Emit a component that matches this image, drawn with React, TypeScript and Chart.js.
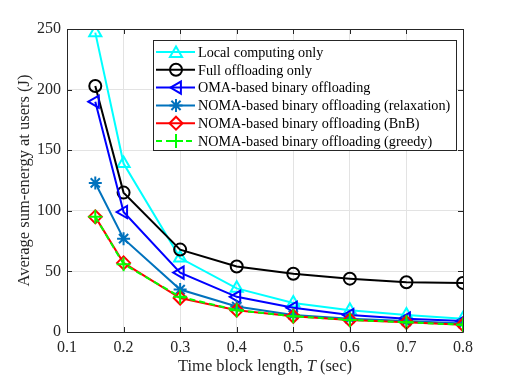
import React, { useEffect, useRef } from "react";
import { Chart, registerables } from "chart.js";

Chart.register(...registerables);

const xValues = [0.15, 0.2, 0.3, 0.4, 0.5, 0.6, 0.7, 0.8];
const localComputing = [247, 139, 61, 36, 24, 18, 14, 11];
const fullOffloading = [203, 115, 68, 54, 48, 44, 41, 40.5];
const omaBinary = [190, 99, 49, 29, 20, 14, 11, 9];
const nomaRelaxation = [123, 77, 35, 21, 14, 11, 9, 7];
const nomaBnB = [95, 57, 28, 18, 13, 10, 8, 6];
const nomaGreedy = [95, 56, 29, 18, 13, 10, 8, 6];

const seriesNames = [
  "Local computing only",
  "Full offloading only",
  "OMA-based binary offloading",
  "NOMA-based binary offloading (relaxation)",
  "NOMA-based binary offloading (BnB)",
  "NOMA-based binary offloading (greedy)",
];

const FONT = "'Liberation Serif', 'Times New Roman', serif";

type Spec = {
  color: string;
  style: string;
  rotation: number;
  radius: number;
  dash: number[];
};

const specs: Spec[] = [
  { color: "#00ffff", style: "triangle", rotation: 0, radius: 7, dash: [] },
  { color: "#000000", style: "circle", rotation: 0, radius: 6, dash: [] },
  { color: "#0000ff", style: "triangle", rotation: -90, radius: 7, dash: [] },
  { color: "#0072bd", style: "star", rotation: 0, radius: 6.5, dash: [] },
  { color: "#ff0000", style: "rectRot", rotation: 0, radius: 6.5, dash: [] },
  { color: "#00ff00", style: "cross", rotation: 0, radius: 7, dash: [6, 4] },
];

function drawMarker(ctx: CanvasRenderingContext2D, s: Spec, x: number, y: number) {
  const r = s.radius;
  ctx.save();
  ctx.strokeStyle = s.color;
  ctx.lineWidth = 2;
  ctx.setLineDash([]);
  ctx.translate(x, y);
  ctx.rotate((s.rotation * Math.PI) / 180);
  ctx.beginPath();
  if (s.style === "circle") {
    ctx.arc(0, 0, r, 0, Math.PI * 2);
  } else if (s.style === "triangle") {
    for (let i = 0; i < 3; i++) {
      const a = -Math.PI / 2 + (i * 2 * Math.PI) / 3;
      const px = Math.cos(a) * r;
      const py = Math.sin(a) * r + r * 0.2;
      if (i === 0) ctx.moveTo(px, py);
      else ctx.lineTo(px, py);
    }
    ctx.closePath();
  } else if (s.style === "rectRot") {
    ctx.moveTo(0, -r);
    ctx.lineTo(r, 0);
    ctx.lineTo(0, r);
    ctx.lineTo(-r, 0);
    ctx.closePath();
  } else if (s.style === "cross") {
    ctx.moveTo(-r, 0);
    ctx.lineTo(r, 0);
    ctx.moveTo(0, -r);
    ctx.lineTo(0, r);
  } else if (s.style === "star") {
    for (let i = 0; i < 4; i++) {
      const a = (i * Math.PI) / 4;
      ctx.moveTo(Math.cos(a) * r, Math.sin(a) * r);
      ctx.lineTo(-Math.cos(a) * r, -Math.sin(a) * r);
    }
  }
  ctx.stroke();
  ctx.restore();
}

const framePlugin = {
  id: "framePlugin",
  afterDraw(chart: any) {
    const ctx: CanvasRenderingContext2D = chart.ctx;
    const { left, right, top, bottom } = chart.chartArea;
    const xs = chart.scales.x;
    const ys = chart.scales.y;
    ctx.save();
    ctx.strokeStyle = "#262626";
    ctx.lineWidth = 1;
    ctx.setLineDash([]);
    ctx.beginPath();
    ctx.rect(Math.round(left) + 0.5, Math.round(top) + 0.5, Math.round(right - left), Math.round(bottom - top));
    ctx.stroke();
    const tl = 5;
    ctx.beginPath();
    xs.ticks.forEach((t: any) => {
      const px = Math.round(xs.getPixelForValue(t.value)) + 0.5;
      ctx.moveTo(px, bottom);
      ctx.lineTo(px, bottom - tl);
      ctx.moveTo(px, top);
      ctx.lineTo(px, top + tl);
    });
    ys.ticks.forEach((t: any) => {
      const py = Math.round(ys.getPixelForValue(t.value)) + 0.5;
      ctx.moveTo(left, py);
      ctx.lineTo(left + tl, py);
      ctx.moveTo(right, py);
      ctx.lineTo(right - tl, py);
    });
    ctx.stroke();

    // axis titles
    ctx.fillStyle = "#262626";
    ctx.textBaseline = "middle";
    const fs = 16.5;
    const p1 = "Time block length, ";
    const p2 = "T";
    const p3 = " (sec)";
    ctx.font = `${fs}px ${FONT}`;
    const w1 = ctx.measureText(p1).width;
    const w3 = ctx.measureText(p3).width;
    ctx.font = `italic ${fs}px ${FONT}`;
    const w2 = ctx.measureText(p2).width;
    const total = w1 + w2 + w3;
    const cx = (left + right) / 2;
    const sx = cx - total / 2;
    const ty = 367;
    ctx.textAlign = "left";
    ctx.font = `${fs}px ${FONT}`;
    ctx.fillText(p1, sx, ty);
    ctx.font = `italic ${fs}px ${FONT}`;
    ctx.fillText(p2, sx + w1, ty);
    ctx.font = `${fs}px ${FONT}`;
    ctx.fillText(p3, sx + w1 + w2, ty);

    ctx.save();
    ctx.translate(25, (top + bottom) / 2);
    ctx.rotate(-Math.PI / 2);
    ctx.textAlign = "center";
    ctx.fillText("Average sum-energy at users (J)", 0, 0);
    ctx.restore();

    // legend
    const lx = 153;
    const ly = 40;
    const lw = 303;
    const lh = 110;
    ctx.fillStyle = "#ffffff";
    ctx.fillRect(lx, ly, lw, lh);
    ctx.strokeStyle = "#262626";
    ctx.lineWidth = 1;
    ctx.strokeRect(lx + 0.5, ly + 0.5, lw, lh);
    const rowH = 17.8;
    seriesNames.forEach((name, i) => {
      const s = specs[i];
      const yy = 52 + i * rowH;
      ctx.save();
      ctx.strokeStyle = s.color;
      ctx.lineWidth = 2;
      ctx.setLineDash(s.dash);
      ctx.beginPath();
      ctx.moveTo(156, yy);
      ctx.lineTo(195, yy);
      ctx.stroke();
      ctx.restore();
      drawMarker(ctx, s, 176, yy);
      ctx.fillStyle = "#000000";
      ctx.font = `14.2px ${FONT}`;
      ctx.textAlign = "left";
      ctx.textBaseline = "middle";
      ctx.fillText(name, 198, yy + 1);
    });
    ctx.restore();
  },
};

const seriesValues = [localComputing, fullOffloading, omaBinary, nomaRelaxation, nomaBnB, nomaGreedy];

export default function App() {
  const ref = useRef<HTMLCanvasElement>(null);
  useEffect(() => {
    document.body.style.margin = "0";
    const canvas = ref.current;
    if (!canvas) return;
    const datasets = seriesValues.map((vals, i) => {
      const s = specs[i];
      return {
        label: seriesNames[i],
        data: xValues.map((x, j) => ({ x, y: vals[j] })),
        borderColor: s.color,
        backgroundColor: "rgba(0,0,0,0)",
        borderWidth: 2,
        borderDash: s.dash,
        pointStyle: s.style as any,
        pointRotation: s.rotation,
        pointRadius: s.radius,
        pointBorderWidth: 2,
        pointBorderColor: s.color,
        pointBackgroundColor: "rgba(0,0,0,0)",
        tension: 0,
        order: seriesValues.length - i,
      };
    });
    const chart = new Chart(canvas, {
      type: "line",
      data: { datasets },
      options: {
        responsive: false,
        animation: false,
        layout: { padding: { left: 0, top: 29, right: 49, bottom: 0 } },
        plugins: { legend: { display: false }, tooltip: { enabled: false } },
        scales: {
          x: {
            type: "linear",
            min: 0.1,
            max: 0.8,
            ticks: {
              stepSize: 0.1,
              callback: (v: any) => Number(v).toFixed(1),
              font: { family: FONT, size: 16 },
              color: "#262626",
              padding: 6,
              maxRotation: 0,
            },
            grid: { color: "#e3e3e3", drawTicks: false },
            border: { display: false },
            afterFit: (s: any) => {
              s.height = 45;
            },
          },
          y: {
            min: 0,
            max: 250,
            ticks: {
              stepSize: 50,
              font: { family: FONT, size: 16 },
              color: "#262626",
              padding: 6,
            },
            grid: { color: "#e3e3e3", drawTicks: false },
            border: { display: false },
            afterFit: (s: any) => {
              s.width = 67;
            },
          },
        },
      },
      plugins: [framePlugin],
    });
    return () => chart.destroy();
  }, []);
  return (
    <div style={{ width: 512, height: 377 }}>
      <canvas ref={ref} width={512} height={377} style={{ display: "block" }} />
    </div>
  );
}
